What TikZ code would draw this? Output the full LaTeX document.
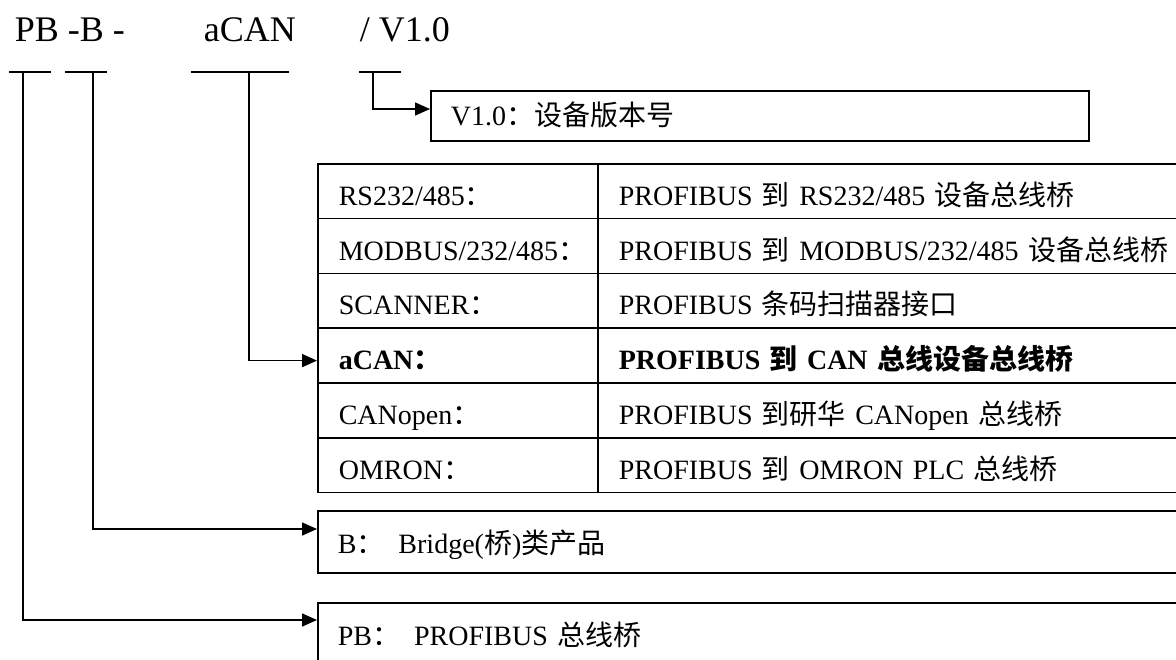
\documentclass[tikz,border=0pt]{standalone}
\usepackage{fontspec}
\setmainfont{Liberation Serif}
\newfontfamily\cjk{Noto Sans CJK SC}
\newcommand{\zh}[1]{{\cjk #1}}
\usetikzlibrary{arrows.meta}
\begin{document}
\begin{tikzpicture}[x=1pt,y=-1pt,
  line width=1.6pt,
  arr/.style={-{Triangle[length=15pt,width=13pt]}, line width=1.6pt},
  bar/.style={line width=1.6pt},
  title/.style={anchor=base west, inner sep=0pt, font=\fontsize{36}{40}\selectfont},
  txt/.style={font=\fontsize{28}{32}\selectfont},
  vbox/.style={txt, draw, anchor=north west, minimum height=50pt, inner xsep=20pt,
    text width=618pt, align=left, text height=21pt, text depth=1pt},
  wbox/.style={txt, draw, anchor=north west, minimum height=62pt, inner xsep=20pt,
    text width=860pt, align=left, text height=25pt, text depth=1pt},
  cellA/.style={txt, draw, anchor=north west, minimum height=54.8pt, inner xsep=21pt,
    text width=238pt, align=left, text height=30pt, text depth=1.8pt},
  cellB/.style={txt, draw, anchor=north west, minimum height=54.8pt, inner xsep=21pt,
    text width=578pt, align=left, text height=30pt, text depth=1.8pt},
]
\useasboundingbox (0,0) rectangle (1176,659);

% title
\node[title] (t1) at (14,41) {PB -B -};
\node[title] (t2) at (203,41) {aCAN};
\node[title] (t3) at (359,41) {/ V1.0};

% bars under the title
\draw[bar] (9,72) -- (51,72);
\draw[bar] (65,72) -- (107,72);
\draw[bar] (191,72) -- (289,72);
\draw[bar] (359,72) -- (401,72);
\coordinate (p1) at (23,72);
\coordinate (p2) at (93,72);
\coordinate (p3) at (249,72);
\coordinate (p4) at (373,72);

% version box
\node[vbox] (v) at (430,90) {V1.0\zh{：设备版本号}};

% table
\node[cellA] (a1) at (317,163)   {RS232/485\zh{：}};
\node[cellB] (c1) at (597,163)   {PROFIBUS \zh{到} RS232/485 \zh{设备总线桥}};
\node[cellA] (a2) at (317,217.8) {MODBUS/232/485\zh{：}};
\node[cellB] (c2) at (597,217.8) {PROFIBUS \zh{到} MODBUS/232/485 \zh{设备总线桥}};
\node[cellA] (a3) at (317,272.6) {SCANNER\zh{：}};
\node[cellB] (c3) at (597,272.6) {PROFIBUS \zh{条码扫描器接口}};
\node[cellA] (a4) at (317,327.4) {\textbf{aCAN\zh{：}}};
\node[cellB] (c4) at (597,327.4) {\textbf{PROFIBUS \zh{到} CAN \zh{总线设备总线桥}}};
\node[cellA] (a5) at (317,382.2) {CANopen\zh{：}};
\node[cellB] (c5) at (597,382.2) {PROFIBUS \zh{到研华} CANopen \zh{总线桥}};
\node[cellA] (a6) at (317,437)   {OMRON\zh{：}};
\node[cellB] (c6) at (597,437)   {PROFIBUS \zh{到} OMRON PLC \zh{总线桥}};

% B and PB boxes
\node[wbox] (b) at (317,510) {B\zh{：}\hspace{14pt}Bridge(\zh{桥})\zh{类产品}};
\node[wbox] (pb) at (317,602) {PB\zh{：}\hspace{14pt}PROFIBUS \zh{总线桥}};

% arrow targets
\coordinate (vin) at ([yshift=-19pt]v.north west);
\coordinate (ain) at ([yshift=-5pt]a4.west);
\coordinate (bin) at ([yshift=-19pt]b.north west);
\coordinate (pbin) at ([yshift=-18pt]pb.north west);

% connectors
\draw[arr] (p4) |- (vin);
\draw[arr] (p3) |- (ain);
\draw[arr] (p2) |- (bin);
\draw[arr] (p1) |- (pbin);
\end{tikzpicture}
\end{document}
